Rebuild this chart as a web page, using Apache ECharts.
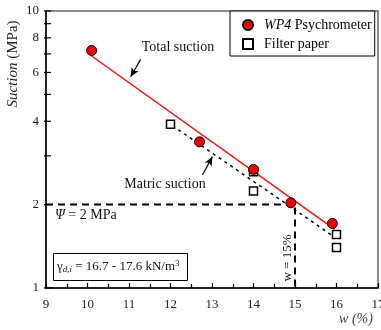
<!DOCTYPE html>
<html>
<head>
<meta charset="utf-8">
<script src="https://cdn.jsdelivr.net/npm/echarts@6/dist/echarts.min.js"></script>
<style>
  html, body { margin: 0; padding: 0; background: #fff; }
  #chart { width: 381px; height: 330px; }
</style>
</head>
<body>
<div id="chart"></div>
<script>
// measured points
var wp4W = [10.1, 12.7, 14.0, 14.9, 15.9];
var wp4S = [7.2, 3.37, 2.68, 2.03, 1.71];
var fpW = [12.0, 14.0, 14.0, 16.0, 16.0];
var fpS = [3.9, 2.63, 2.24, 1.56, 1.40];
// fitted lines (end points)
var totalFitW = [10.1, 15.95];
var totalFitS = [6.88, 1.63];
var matricFitW = [12.05, 16.0];
var matricFitS = [3.85, 1.51];
// reference values
var refPsi = 2;
var refW = 15;
// axes
var xMin = 9, xMax = 17;
var yMin = 1, yMax = 10;
var yTickValues = [1, 2, 3, 4, 5, 6, 7, 8, 9, 10];
var yLabelValues = [1, 2, 4, 6, 8, 10];
// annotation arrows (data coords)
var totalArrow = [[11.28, 6.69], [11.04, 5.79]];
var matricArrow = [[12.77, 2.56], [13.01, 2.98]];

var FONT = 'Liberation Serif, "Times New Roman", Times, serif';

function pairs(xs, ys) {
    return xs.map(function (x, i) { return [x, ys[i]]; });
}

var chart = echarts.init(document.getElementById('chart'), null, { renderer: 'canvas' });

var option = {
    animation: false,
    grid: {
        left: 46, right: 3, top: 11, bottom: 42,
        outerBoundsMode: 'none',
        containLabel: false,
        show: true, borderColor: '#666', borderWidth: 1.5
    },
    legend: {
        orient: 'vertical',
        left: 230, top: 11,
        padding: [7, 3, 5, 12],
        itemGap: 5,
        itemWidth: 10, itemHeight: 10,
        backgroundColor: '#fff',
        borderColor: '#000', borderWidth: 1,
        borderRadius: 0,
        data: [
            { name: 'WP4 Psychrometer', icon: 'circle' },
            { name: 'Filter paper', icon: 'rect' }
        ],
        formatter: function (name) {
            if (name === 'WP4 Psychrometer') return '{i|WP4} Psychrometer';
            return name;
        },
        textStyle: {
            fontFamily: FONT, fontSize: 14, color: '#000', padding: [0, 0, 0, 6],
            rich: { i: { fontFamily: FONT, fontSize: 14, fontStyle: 'italic', color: '#000' } }
        }
    },
    xAxis: {
        type: 'value', min: xMin, max: xMax, interval: 1,
        axisLine: { lineStyle: { color: '#000', width: 1.5 } },
        axisTick: { inside: true, length: 5, lineStyle: { color: '#000', width: 1.2 } },
        minorTick: { show: true, splitNumber: 2, length: 4, lineStyle: { color: '#000', width: 1.2 } },
        splitLine: { show: false },
        axisLabel: { fontFamily: FONT, fontSize: 13, color: '#222', margin: 10, showMaxLabel: true }
    },
    yAxis: {
        type: 'log', logBase: 10, min: yMin, max: yMax,
        axisLine: { lineStyle: { color: '#000', width: 1.5 } },
        axisTick: { show: false },
        axisLabel: { show: false },
        splitLine: { show: false }
    },
    series: [
        {
            name: 'yTicks',
            type: 'custom',
            silent: true,
            clip: false,
            data: yTickValues.map(function (v) { return [xMin, v]; }),
            encode: { x: 0, y: 1 },
            renderItem: function (params, api) {
                var v = api.value(1);
                var p = api.coord([xMin, v]);
                var children = [{
                    type: 'line',
                    shape: { x1: p[0] - 2, y1: p[1], x2: p[0] + 5, y2: p[1] },
                    style: { stroke: '#000', lineWidth: 1.2 }
                }];
                if (yLabelValues.indexOf(v) >= 0) {
                    children.push({
                        type: 'text',
                        style: {
                            x: p[0] - 7, y: p[1], text: String(v),
                            textAlign: 'right', textVerticalAlign: 'middle',
                            font: '13px ' + FONT, fill: '#222'
                        }
                    });
                }
                return { type: 'group', children: children };
            },
            z: 5
        },
        {
            name: 'psiRef',
            type: 'line',
            data: [[xMin, refPsi], [refW, refPsi], [refW, yMin]],
            symbol: 'none',
            lineStyle: { color: '#000', width: 2, type: [7, 5] },
            silent: true,
            z: 2
        },
        {
            name: 'Total fit',
            type: 'line',
            data: pairs(totalFitW, totalFitS),
            symbol: 'none',
            lineStyle: { color: '#ee1111', width: 1.5 },
            silent: true,
            z: 3,
            markLine: {
                silent: true,
                symbol: ['none', 'arrow'],
                symbolSize: [6, 9],
                label: { show: false },
                lineStyle: { color: '#000', width: 1.2, type: 'solid' },
                data: [[{ coord: totalArrow[0] }, { coord: totalArrow[1] }]]
            }
        },
        {
            name: 'Matric fit',
            type: 'line',
            data: pairs(matricFitW, matricFitS),
            symbol: 'none',
            lineStyle: { color: '#000', width: 1.5, type: [3, 4] },
            silent: true,
            z: 3,
            markLine: {
                silent: true,
                symbol: ['none', 'arrow'],
                symbolSize: [6, 9],
                label: { show: false },
                lineStyle: { color: '#000', width: 1.2, type: 'solid' },
                data: [[{ coord: matricArrow[0] }, { coord: matricArrow[1] }]]
            }
        },
        {
            name: 'Filter paper',
            type: 'scatter',
            data: pairs(fpW, fpS),
            symbol: 'rect',
            symbolSize: 8,
            itemStyle: { color: '#fff', borderColor: '#000', borderWidth: 1.5, opacity: 1 },
            z: 4
        },
        {
            name: 'WP4 Psychrometer',
            type: 'scatter',
            data: pairs(wp4W, wp4S),
            symbol: 'circle',
            symbolSize: 10,
            itemStyle: { color: '#ee0000', borderColor: '#000', borderWidth: 1, opacity: 1 },
            z: 6
        }
    ],
    graphic: [
        {
            type: 'text', x: 13, y: 64, rotation: Math.PI / 2,
            style: {
                text: '{i|Suction} (MPa)',
                font: '15px ' + FONT, fill: '#222',
                textAlign: 'center', textVerticalAlign: 'middle',
                rich: { i: { font: 'italic 15px ' + FONT, fill: '#222' } }
            }
        },
        {
            type: 'text', x: 356, y: 319,
            style: {
                text: 'w (%)', font: 'italic 14px ' + FONT, fill: '#444',
                textAlign: 'center', textVerticalAlign: 'middle'
            }
        },
        {
            type: 'text', x: 178, y: 47,
            style: {
                text: 'Total suction', font: '14px ' + FONT, fill: '#111',
                textAlign: 'center', textVerticalAlign: 'middle'
            }
        },
        {
            type: 'text', x: 165, y: 184,
            style: {
                text: 'Matric suction', font: '14px ' + FONT, fill: '#111',
                textAlign: 'center', textVerticalAlign: 'middle'
            }
        },
        {
            type: 'text', x: 55, y: 215,
            style: {
                text: '{i|Ψ} = 2 MPa', font: '14px ' + FONT, fill: '#111',
                textVerticalAlign: 'middle',
                rich: { i: { font: 'italic 14px ' + FONT, fill: '#111' } }
            }
        },
        {
            type: 'text', x: 288, y: 258, rotation: Math.PI / 2,
            style: {
                text: 'w = 15%', font: '13px ' + FONT, fill: '#111',
                textAlign: 'center', textVerticalAlign: 'middle'
            }
        },
        {
            type: 'rect', left: 53, top: 253, z: 10,
            shape: { width: 134, height: 27 },
            style: { fill: '#fff', stroke: '#000', lineWidth: 1 }
        },
        {
            type: 'text', x: 57, y: 267, z: 11,
            style: {
                text: 'γ{s|d,i} = 16.7 - 17.6 kN/m{p|3}',
                font: '13px ' + FONT, fill: '#111',
                textVerticalAlign: 'middle',
                rich: {
                    s: { font: 'italic 9px ' + FONT, fill: '#111', verticalAlign: 'bottom', padding: [6, 0, 0, 0] },
                    p: { font: '9px ' + FONT, fill: '#111', verticalAlign: 'top', padding: [0, 0, 6, 0] }
                }
            }
        }
    ]
};

chart.setOption(option);
</script>
</body>
</html>
